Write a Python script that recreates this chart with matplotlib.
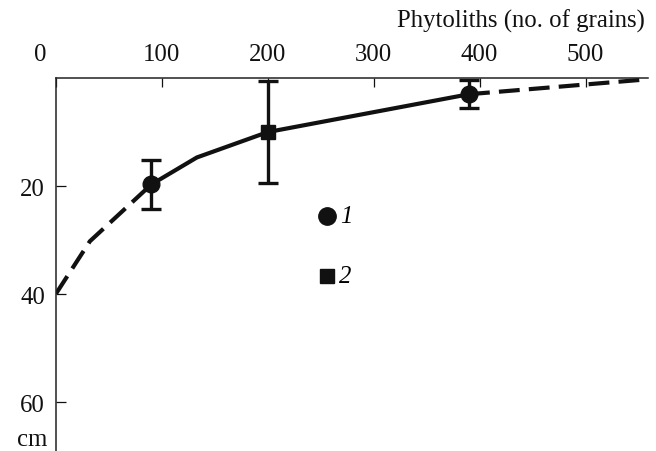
import numpy as np
import matplotlib.pyplot as plt
from matplotlib.transforms import ScaledTranslation

plt.rcParams['font.family'] = 'serif'
plt.rcParams['font.serif'] = ['Liberation Serif', 'DejaVu Serif']

# phytolith counts vs depth (cm)
pts_x      = [90, 200, 390]     # sample points
pts_depth  = [19.7, 10.0, 3.0]
pts_err    = [4.6, 9.5, 2.6]
pts_type   = ['o', 's', 'o']    # 1 = circle, 2 = square

solid_x    = [90, 133, 200, 390]          # fitted curve (solid part)
solid_d    = [19.7, 14.7, 10.0, 3.0]
dash_lo_x  = [0, 32, 90]                  # extrapolated (dashed) parts
dash_lo_d  = [39.9, 30.2, 19.7]
dash_hi_x  = [390, 555]
dash_hi_d  = [3.0, 0.3]

xticks = [0, 100, 200, 300, 400, 500]
yticks = [20, 40, 60]

ink = '#111111'
fs  = 17.8

fig = plt.figure(figsize=(6.56, 4.52), dpi=100, facecolor='white')
ax = fig.add_axes([56/656, 0, (648-56)/656, 373/452])

ax.plot(solid_x, solid_d, color=ink, lw=3.0, solid_capstyle='butt')
ax.plot(dash_lo_x, dash_lo_d, color=ink, lw=3.0, dashes=(5.0, 2.2))
ax.plot(dash_hi_x, dash_hi_d, color=ink, lw=3.0, dashes=(5.0, 2.2))

for x, d, e, m in zip(pts_x, pts_depth, pts_err, pts_type):
    ax.errorbar(x, d, yerr=e, fmt=m, color=ink, ms=12 if m == 'o' else 10.5,
                elinewidth=2.4, capsize=7, capthick=2.4, zorder=3)

# key
ax.plot(255.5, 25.5, 'o', color=ink, ms=12.5)
ax.text(268, 25.5, '1', style='italic', fontsize=fs, va='center', ha='left')
ax.plot(255.5, 36.6, 's', color=ink, ms=10.5)
ax.text(267, 36.6, '2', style='italic', fontsize=fs, va='center', ha='left')

ax.set_xlim(0, 559)
ax.set_ylim(69, 0)
ax.xaxis.tick_top()
ax.set_xticks(xticks)
ax.set_xticklabels([''] + [str(t) for t in xticks[1:]])
ax.set_yticks(yticks)
ax.tick_params(axis='x', direction='in', length=6.5, width=0.9, pad=9.5,
               labelsize=fs, colors=ink)
ax.tick_params(axis='y', direction='in', length=7, width=0.9, pad=8,
               labelsize=fs, colors=ink)
for s in ['right', 'bottom']:
    ax.spines[s].set_visible(False)
for s in ['left', 'top']:
    ax.spines[s].set_linewidth(1.1)
    ax.spines[s].set_color('#222222')

# origin label sits left of the corner
ax.text(0, 0, '0', fontsize=fs, ha='center', va='bottom', color=ink,
        transform=ax.transData + ScaledTranslation(-16/100, 13/100, fig.dpi_scale_trans))
fig.text(645/656, 1 - 28/452, 'Phytoliths (no. of grains)', fontsize=fs,
         ha='right', va='baseline', color=ink)
fig.text(47/656, 1 - 446/452, 'cm', fontsize=fs, ha='right', va='baseline', color=ink)

fig.savefig('out.png', dpi=100, facecolor='white')
